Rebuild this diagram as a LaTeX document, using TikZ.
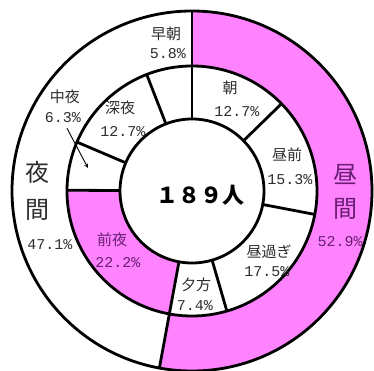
\documentclass[tikz,border=0pt]{standalone}
\usepackage{fontspec}
\newfontfamily\jpfont{Noto Sans CJK JP}
\newfontfamily\numfont{Liberation Mono}
\definecolor{daypink}{RGB}{255,130,255}
\definecolor{daytext}{RGB}{105,30,115}
\definecolor{labeltext}{RGB}{45,45,45}
\begin{document}
\begin{tikzpicture}[x=1pt, y=1pt, ring line/.style={line width=2.8pt, black},
    part label/.style={inner sep=0pt, text=labeltext, font=\jpfont\fontsize{15}{17}\selectfont},
    part value/.style={inner sep=0pt, text=labeltext, font=\numfont\fontsize{15}{17}\selectfont},
    big label/.style={inner sep=0pt, text=labeltext, font=\jpfont\fontsize{24}{26}\selectfont}]

                \useasboundingbox (-192,-180) rectangle (182,191);

                % pink parts: outer day half and middle ring part
                \fill[daypink] (90:180pt) arc[start angle=90, end angle=-100.44, radius=180pt] -- (-100.44:125pt) arc[start angle=-100.44, end angle=90, radius=125pt] -- cycle;
                \fill[daypink] (-100.44:125pt) arc[start angle=-100.44, end angle=-180.36, radius=125pt] -- (-180.36:72pt) arc[start angle=-180.36, end angle=-100.44, radius=72pt] -- cycle;

                \draw[ring line] (0,0) circle[radius=180pt];
                \draw[ring line] (0,0) circle[radius=125pt];
                \draw[ring line] (0,0) circle[radius=72pt];

                % outer ring borders
                \foreach \a in {90, -100.44}
                    \draw[ring line] (\a:125pt) -- (\a:180pt);
                % middle ring borders
                \foreach \a in {90, 44.28, -10.8, -73.8, -100.44, -180.36, -203.04, -248.76}
                    \draw[ring line] (\a:72pt) -- (\a:125pt);

                \node[part label] at (-26, 157) (early) {早朝};
                \node[part value] at (-24, 137) (earlyv) {5.8\%};
                \node[part label] at (-127, 94) (mid) {中夜};
                \node[part value] at (-129, 73) (midv) {6.3\%};
                \node[part label] at (-72, 83) (deep) {深夜};
                \node[part value] at (-69, 59) (deepv) {12.7\%};
                \node[part label] at (38, 103) (morn) {朝};
                \node[part value] at (45, 79) (mornv) {12.7\%};
                \node[part label] at (95, 36) (forenoon) {昼前};
                \node[part value] at (98, 11) (forenoonv) {15.3\%};
                \node[part label] at (77, -61) (afternoon) {昼過ぎ};
                \node[part value] at (75, -81) (afternoonv) {17.5\%};
                \node[part label] at (4, -94) (evening) {夕方};
                \node[part value] at (3, -115) (eveningv) {7.4\%};
                \node[part label, text=daytext] at (-80, -49) (early night) {前夜};
                \node[part value, text=daytext] at (-74, -72) (early nightv) {22.2\%};

                \node[big label] at (-154, 19) (night1) {夜};
                \node[big label] at (-154, -19) (night2) {間};
                \node[part value] at (-142, -54) (nightv) {47.1\%};
                \node[big label, text=daytext] at (153, 16) (day1) {昼};
                \node[big label, text=daytext] at (153, -18) (day2) {間};
                \node[part value, text=daytext] at (148, -51) (dayv) {52.9\%};

                \node[inner sep=0pt, font=\jpfont\bfseries\fontsize{22}{24}\selectfont] at (8, -4) (total) {１８９人};

                \coordinate (midtip) at (-104, 23);
                \draw[->, >=stealth, line width=0.9pt] (midv.south) ++(4,-5) coordinate (midtail) -- (midtip);
            \end{tikzpicture}
\end{document}
